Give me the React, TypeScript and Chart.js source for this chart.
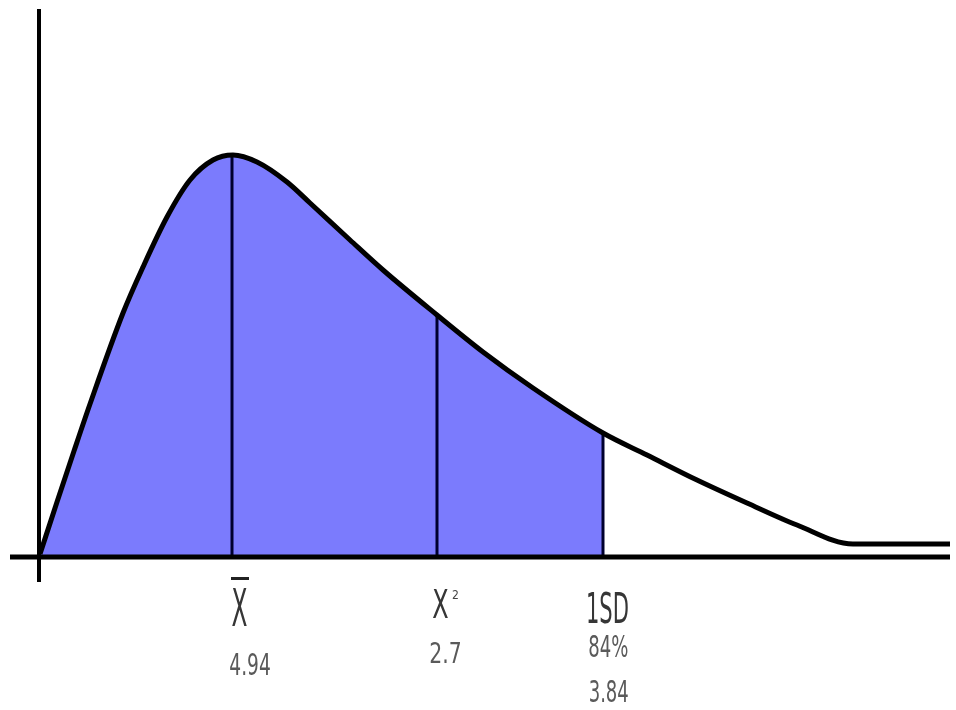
import React, { useEffect, useRef } from "react";
import { Chart, registerables } from "chart.js";

Chart.register(...registerables);

// Curve (height above the baseline)
const curveX = [40, 57, 74, 90, 123, 143, 167, 190, 213, 233, 257, 287, 310, 350, 383, 437, 483, 533, 603, 647, 697, 747, 797, 853, 950];
const curveY = [3, 55, 106, 153, 244, 290, 340, 377, 397, 402, 395, 375, 354, 317, 287, 242, 205, 169, 124, 102, 77, 54, 32, 13, 13];
const shadeEndX = 603;

// Marker lines and their labels
const markerX = [232, 437, 603];
const markerY = [402, 242, 124];
const markerSymbols = ["X", "X", "1SD"];
const markerDecor = ["bar", "2", ""];
const markerValues = [["4.94"], ["2.7"], ["84%", "3.84"]];

// Axes
const hAxisX = [10, 950];
const vAxisX = 39;
const vAxisY = [-25, 548];

const FONT = '"DejaVu Sans Condensed", "DejaVu Sans", sans-serif';

function fitText(ctx: CanvasRenderingContext2D, text: string, left: number, top: number, w: number, h: number, color: string) {
  ctx.save();
  ctx.font = `${Math.round(h * 1.35)}px ${FONT}`;
  const m = ctx.measureText(text);
  const gw = m.actualBoundingBoxLeft + m.actualBoundingBoxRight;
  const gh = m.actualBoundingBoxAscent + m.actualBoundingBoxDescent;
  ctx.translate(left, top);
  ctx.scale(w / gw, h / gh);
  ctx.fillStyle = color;
  ctx.textBaseline = "alphabetic";
  ctx.textAlign = "left";
  ctx.fillText(text, m.actualBoundingBoxLeft, m.actualBoundingBoxAscent);
  ctx.restore();
}

// layout offsets (relative to marker pixel x)
const symbolBoxes = [
  [0, 589, 15, 37],
  [-4, 589, 15, 29],
  [-15, 590, 40, 34],
];
const decorBoxes = [
  [-1, 577, 18, 3],
  [15, 590, 6, 9],
  [0, 0, 0, 0],
];
const valueBoxes = [
  [[-2, 653, 40, 22]],
  [[-7, 642, 30, 21]],
  [[-14, 635, 39, 22], [-13, 680, 38, 22]],
];

const labelPlugin = {
  id: "labels",
  afterDatasetsDraw(chart: any) {
    const ctx: CanvasRenderingContext2D = chart.ctx;
    const xs = chart.scales.x;
    markerX.forEach((mx, i) => {
      const px = xs.getPixelForValue(mx);
      const sb = symbolBoxes[i];
      fitText(ctx, markerSymbols[i], px + sb[0], sb[1], sb[2], sb[3], "#363636");
      const db = decorBoxes[i];
      if (markerDecor[i] === "bar") {
        ctx.fillStyle = "#222";
        ctx.fillRect(px + db[0], db[1], db[2], db[3]);
      } else if (markerDecor[i]) {
        fitText(ctx, markerDecor[i], px + db[0], db[1], db[2], db[3], "#444");
      }
      markerValues[i].forEach((v, j) => {
        const vb = valueBoxes[i][j];
        fitText(ctx, v, px + vb[0], vb[1], vb[2], vb[3], "#5a5a5a");
      });
    });
  },
};

export default function App() {
  const ref = useRef<HTMLCanvasElement | null>(null);
  useEffect(() => {
    document.body.style.margin = "0";
    const curve = curveX.map((x, i) => ({ x, y: curveY[i] }));
    const shade = curve.filter((p) => p.x <= shadeEndX);
    const markers = markerX.map((x, i) => ({
      type: "line" as const,
      data: [{ x, y: 0 }, { x, y: markerY[i] }],
      borderColor: "#00002e",
      borderWidth: 3,
      pointRadius: 0,
      fill: false,
      order: 2,
    }));
    const chart = new Chart(ref.current!, {
      type: "scatter",
      data: {
        datasets: [
          {
            type: "line",
            data: [{ x: hAxisX[0], y: 0 }, { x: hAxisX[1], y: 0 }],
            borderColor: "#000",
            borderWidth: 5,
            pointRadius: 0,
            order: 0,
          },
          {
            type: "line",
            data: [{ x: vAxisX, y: vAxisY[0] }, { x: vAxisX, y: vAxisY[1] }],
            borderColor: "#000",
            borderWidth: 4,
            pointRadius: 0,
            order: 0,
          },
          {
            type: "line",
            data: curve,
            borderColor: "#000",
            borderWidth: 5,
            pointRadius: 0,
            cubicInterpolationMode: "monotone",
            fill: false,
            order: 1,
          },
          ...markers,
          {
            type: "line",
            data: shade,
            borderWidth: 0,
            borderColor: "rgba(0,0,0,0)",
            backgroundColor: "#7b7bfd",
            pointRadius: 0,
            cubicInterpolationMode: "monotone",
            fill: "origin",
            order: 3,
          },
        ] as any,
      },
      options: {
        animation: false,
        responsive: false,
        maintainAspectRatio: false,
        layout: { padding: 0 },
        plugins: { legend: { display: false }, tooltip: { enabled: false } },
        scales: {
          x: { type: "linear", min: 0, max: 956, display: false },
          y: { type: "linear", min: -153, max: 557, display: false },
        },
      },
      plugins: [labelPlugin],
    });
    return () => chart.destroy();
  }, []);
  return (
    <div style={{ position: "absolute", left: 0, top: 0, width: 956, height: 710, background: "#fff" }}>
      <canvas ref={ref} width={956} height={710} />
    </div>
  );
}
